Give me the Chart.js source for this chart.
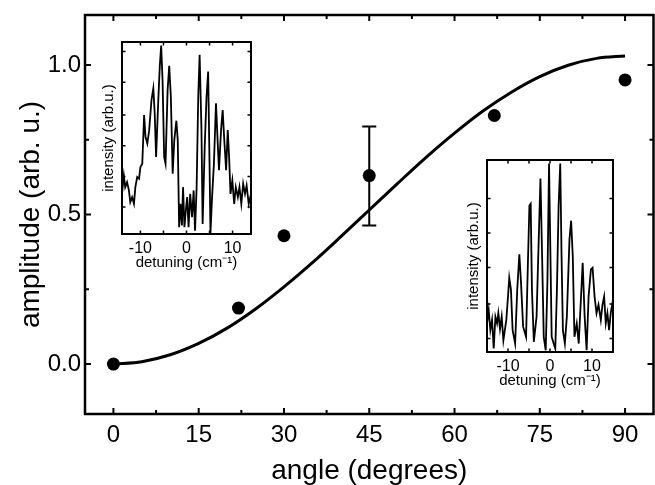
<!DOCTYPE html>
<html>
<head>
<meta charset="utf-8">
<script src="https://cdn.jsdelivr.net/npm/chart.js@4.4.1/dist/chart.umd.min.js"></script>
<style>
  html, body { margin: 0; padding: 0; background: #fff; }
  #wrap { position: relative; width: 655px; height: 485px; overflow: hidden; }
  canvas { position: absolute; }
  #main { left: 0; top: 0; }
  #inset1 { left: 96px; top: 38px; background: #fff; }
  #inset2 { left: 461px; top: 156px; background: #fff; }
</style>
</head>
<body>
<div id="wrap">
  <canvas id="main" width="655" height="485"></canvas>
  <canvas id="inset1" width="160" height="238"></canvas>
  <canvas id="inset2" width="157" height="238"></canvas>
</div>
<script>
// main plot: measured amplitudes
const angles = [0, 22, 30, 45, 67, 90];
const amplitudes = [0, 0.187, 0.429, 0.630, 0.831, 0.950];
const errAngles = [45];
const errLow = [0.463];
const errHigh = [0.794];

// fit curve
const fitAngles = [0, 5, 10, 15, 20, 25, 30, 35, 40, 45, 50, 55, 60, 65, 70, 75, 80, 85, 90];
const fitAmplitudes = [0, 0.008, 0.031, 0.069, 0.120, 0.184, 0.258, 0.339, 0.426, 0.515,
  0.604, 0.691, 0.772, 0.846, 0.909, 0.961, 0.999, 1.022, 1.03];

const xTicks = [0, 15, 30, 45, 60, 75, 90];
const yTicks = [0, 0.5, 1.0];

// left inset spectrum
const leftDetuning = [-14, -13.6, -13.3, -12.9, -12.5, -12.2, -11.8, -11.4, -11.1, -10.7, -10.3, -10.0,
  -9.6, -9.2, -8.9, -8.5, -8.1, -7.6, -7.2, -6.9, -6.6, -6.15, -5.8, -5.5, -5.2, -4.85, -4.55, -4.1,
  -3.75, -3.4, -3.0, -2.65, -2.2, -1.9, -1.6, -1.3, -1.0, -0.75, -0.45, -0.15, 0.15, 0.45, 0.8, 1.2,
  1.55, 1.85, 2.2, 2.55, 2.85, 3.25, 3.5, 3.95, 4.35, 4.7, 5.0, 5.2, 5.55, 5.95, 6.4, 6.75, 7.05, 7.5,
  7.85, 8.2, 8.6, 8.95, 9.25, 9.55, 9.95, 10.35, 10.7, 11.15, 11.5, 11.9, 12.3, 12.7, 13.05, 13.5, 14];
const leftIntensity = [20.9, 30.5, 24.4, 27, 22.7, 16.6, 19.2, 15.7, 24.4, 29.7, 28.8, 34.9,
  36.6, 62, 50.6, 47.1, 54.1, 69.8, 75.9, 62.8, 40.1, 68.1, 87.3, 98.1, 80.3, 40.1, 36.6, 75,
  87.6, 71.6, 31.4, 48.9, 59, 48.9, 3.5, 15.7, 4.4, 24.4, 3.5, 12.2, 19.2, 3.5, 20.9, 8.7,
  22.7, 1.7, 24.4, 71.6, 93.4, 54.1, 5.2, 45.4, 71.6, 84.6, 36.6, 0.3, 19.2, 36.6, 68.1, 48.9, 33.2, 54.1,
  64.6, 48.9, 33.2, 54.1, 40.1, 20.9, 27.9, 15.7, 24.4, 19.2, 24.4, 15.7, 26.2, 20.9, 25.3, 15.7, 20.9];

// right inset spectrum
const rightDetuning = [-15, -14.6, -14.2, -13.8, -13.4, -13.0, -12.6, -12.3, -11.9, -11.5, -11.1, -10.4,
  -10.0, -9.7, -9.3, -8.9, -8.3, -7.8, -7.3, -6.9, -6.4, -5.7, -5.3, -4.9, -4.6, -4.3, -3.85, -3.2,
  -2.75, -2.27, -1.88, -1.49, -1.02, -0.62, -0.23, 0.08, 0.4, 0.87, 1.26, 1.65, 2.05, 2.44, 2.75, 3.07,
  3.54, 4.01, 4.64, 5.03, 5.42, 5.82, 6.37, 6.84, 7.39, 7.78, 8.25, 8.72, 9.19, 9.74, 10.14, 10.61,
  11.08, 11.55, 12.1, 12.49, 12.89, 13.28, 13.67, 14.07, 14.46, 15];
const rightIntensity = [14.9, 21.9, 11.4, 16.7, 1.8, 18.4, 14.9, 20.2, 12, 18.4, 6.1, 16.7,
  28.9, 38.6, 32.5, 11.4, 4.4, 32.5, 50.9, 36, 13.2, 7.9, 43, 76.3, 77.2, 32.5, 5.3, 18.4,
  53.5, 90.4, 50, 7.9, 0.9, 36, 98.2, 53.5, 7.9, 4.4, 1.8, 32.5, 76.3, 98.2, 50, 11.4,
  4.4, 18.4, 58.8, 68.4, 50, 7.9, 14.9, 4.4, 28.9, 46.5, 18.4, 0.9, 28.9, 43, 43.9, 28.9,
  20.2, 24.6, 16.7, 24.6, 28.9, 14.9, 20.2, 11.4, 20.2, 27.2];

const insetXTicks = [-10, 0, 10];
const insetXMarks = [-10, -5, 0, 5, 10];
const leftYMarks = [14, 30, 46, 62, 79, 95];
const rightYMarks = [7, 25, 44, 62, 80];

const FONT = '"Liberation Sans", Arial, Helvetica, sans-serif';
const minorOf = t => t.slice(1).map((v, i) => (v + t[i]) / 2);

// stop the library from pushing the plot area in for label overhang
const noPad = s => { s.paddingTop = s.paddingBottom = s.paddingLeft = s.paddingRight = 0; };

// box frame with inward tick marks
const framePlugin = {
  id: 'frame',
  afterDatasetsDraw(chart, args, o) {
    const { ctx, chartArea: a, scales: { x, y } } = chart;
    ctx.save();
    ctx.strokeStyle = '#000';
    ctx.lineWidth = o.tickWidth;
    ctx.beginPath();
    const xm = (v, len) => {
      const px = x.getPixelForValue(v);
      ctx.moveTo(px, a.bottom); ctx.lineTo(px, a.bottom - len);
      ctx.moveTo(px, a.top); ctx.lineTo(px, a.top + len);
    };
    const ym = (v, len) => {
      const py = y.getPixelForValue(v);
      ctx.moveTo(a.left, py); ctx.lineTo(a.left + len, py);
      ctx.moveTo(a.right, py); ctx.lineTo(a.right - len, py);
    };
    (o.xMajor || []).forEach(v => xm(v, o.major));
    (o.xMinor || []).forEach(v => xm(v, o.minor));
    (o.yMajor || []).forEach(v => ym(v, o.major));
    (o.yMinor || []).forEach(v => ym(v, o.minor));
    ctx.stroke();
    ctx.lineWidth = o.frameWidth;
    ctx.strokeRect(a.left, a.top, a.right - a.left, a.bottom - a.top);
    ctx.restore();
  }
};

const errorPlugin = {
  id: 'errbars',
  afterDatasetsDraw(chart) {
    const { ctx, scales: { x, y } } = chart;
    ctx.save();
    ctx.strokeStyle = '#000';
    ctx.lineWidth = 2;
    ctx.beginPath();
    errAngles.forEach((ang, i) => {
      const px = x.getPixelForValue(ang);
      const lo = y.getPixelForValue(errLow[i]);
      const hi = y.getPixelForValue(errHigh[i]);
      ctx.moveTo(px, lo); ctx.lineTo(px, hi);
      ctx.moveTo(px - 7, lo); ctx.lineTo(px + 7, lo);
      ctx.moveTo(px - 7, hi); ctx.lineTo(px + 7, hi);
    });
    ctx.stroke();
    ctx.restore();
  }
};

new Chart(document.getElementById('main'), {
  type: 'scatter',
  data: {
    datasets: [
      {
        type: 'line',
        data: fitAngles.map((a, i) => ({ x: a, y: fitAmplitudes[i] })),
        borderColor: '#000', borderWidth: 3, pointRadius: 0,
        cubicInterpolationMode: 'monotone', fill: false
      },
      {
        data: angles.map((a, i) => ({ x: a, y: amplitudes[i] })),
        backgroundColor: '#000', borderColor: '#000', borderWidth: 0,
        pointRadius: 6.5, pointHoverRadius: 6.5
      }
    ]
  },
  options: {
    responsive: false, animation: false, devicePixelRatio: 1,
    layout: { autoPadding: false, padding: { top: 15, right: 1.5, left: 0, bottom: 0 } },
    plugins: {
      legend: { display: false }, tooltip: { enabled: false },
      frame: { xMajor: xTicks, xMinor: minorOf(xTicks), yMajor: yTicks, yMinor: minorOf(yTicks),
        major: 6, minor: 4, tickWidth: 2, frameWidth: 2.5 }
    },
    scales: {
      x: {
        type: 'linear', min: -5, max: 95,
        afterBuildTicks: s => { s.ticks = xTicks.map(v => ({ value: v })); },
        afterFit: s => { s.height = 71; noPad(s); },
        grid: { display: false, drawTicks: false }, border: { display: false },
        ticks: { color: '#000', font: { family: FONT, size: 24 }, padding: 7, maxRotation: 0, autoSkip: false },
        title: { display: true, text: 'angle (degrees)', color: '#000',
          font: { family: FONT, size: 28, lineHeight: 1 }, padding: 0 }
      },
      y: {
        min: -0.167, max: 1.167,
        afterBuildTicks: s => { s.ticks = yTicks.map(v => ({ value: v })); },
        afterFit: s => { s.width = 85; noPad(s); },
        grid: { display: false, drawTicks: false }, border: { display: false },
        ticks: { color: '#000', font: { family: FONT, size: 24 }, padding: 4, callback: v => v.toFixed(1) },
        title: { display: true, text: 'amplitude (arb. u.)', color: '#000',
          font: { family: FONT, size: 28, lineHeight: 1 }, padding: { top: 17 } }
      }
    }
  },
  plugins: [framePlugin, errorPlugin]
});

function insetChart(id, xs, ys, range, yMarks) {
  return new Chart(document.getElementById(id), {
    type: 'line',
    data: {
      datasets: [{
        data: xs.map((v, i) => ({ x: v, y: ys[i] })),
        borderColor: '#000', borderWidth: 1.8, pointRadius: 0, tension: 0, fill: false
      }]
    },
    options: {
      responsive: false, animation: false, devicePixelRatio: 1,
      layout: { autoPadding: false, padding: { top: 4, right: 5, left: 0, bottom: 0 } },
      plugins: {
        legend: { display: false }, tooltip: { enabled: false },
        frame: { xMajor: insetXMarks, yMajor: yMarks, major: 3.5, tickWidth: 1.5, frameWidth: 2 }
      },
      scales: {
        x: {
          type: 'linear', min: -range, max: range,
          afterBuildTicks: s => { s.ticks = insetXTicks.map(v => ({ value: v })); },
          afterFit: s => { s.height = 42; noPad(s); },
          grid: { display: false, drawTicks: false }, border: { display: false },
          ticks: { color: '#000', font: { family: FONT, size: 16 }, padding: 5, maxRotation: 0, autoSkip: false },
          title: { display: true, text: 'detuning (cm\u207B\u00B9)', color: '#000',
            font: { family: FONT, size: 15, lineHeight: 1 }, padding: { bottom: 5.5 } }
        },
        y: {
          min: 0, max: 100,
          afterFit: s => { s.width = 26; noPad(s); },
          grid: { display: false, drawTicks: false }, border: { display: false },
          ticks: { display: false },
          title: { display: true, text: 'intensity (arb.u.)', color: '#000',
            font: { family: FONT, size: 15, lineHeight: 1 }, padding: { top: 5 } }
        }
      }
    },
    plugins: [framePlugin]
  });
}

insetChart('inset1', leftDetuning, leftIntensity, 14, leftYMarks);
insetChart('inset2', rightDetuning, rightIntensity, 15, rightYMarks);
</script>
</body>
</html>
